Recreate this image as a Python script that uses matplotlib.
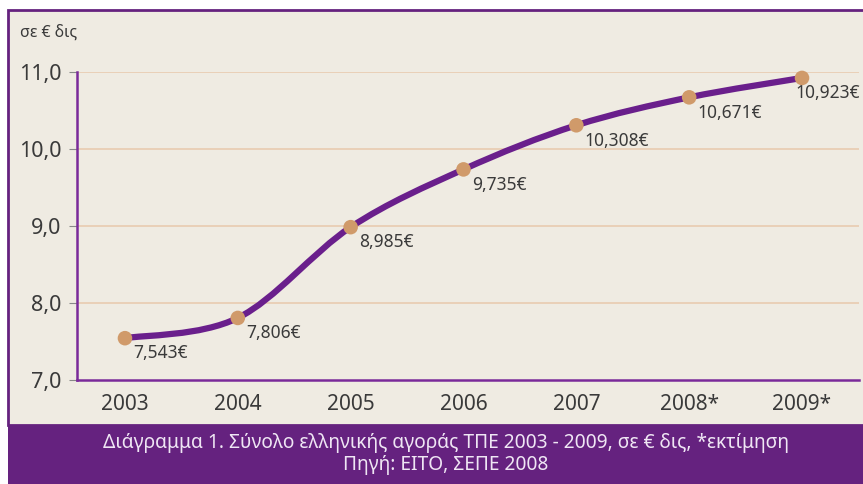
import matplotlib.pyplot as plt
import numpy as np
from matplotlib.path import Path
from matplotlib.patches import PathPatch, Rectangle

plt.rcParams['font.family'] = ['Noto Sans', 'DejaVu Sans']

years = ['2003', '2004', '2005', '2006', '2007', '2008*', '2009*']
values = [7.543, 7.806, 8.985, 9.735, 10.308, 10.671, 10.923]
point_labels = ['7,543€', '7,806€', '8,985€', '9,735€', '10,308€', '10,671€', '10,923€']
y_ticks = [7.0, 8.0, 9.0, 10.0, 11.0]
y_tick_labels = ['7,0', '8,0', '9,0', '10,0', '11,0']

PURPLE = '#65227f'
LINE = '#6a1f8c'
MARKER = '#d09a6a'
BG = '#efebe2'
GRID = '#e9ceb4'
TEXT = '#3a3a3a'

W, H = 863, 484
fig = plt.figure(figsize=(W / 100, H / 100), dpi=100)
fig.patch.set_facecolor('white')

# panel background, border and caption band (behind the axes)
fig.add_artist(Rectangle((8 / W, 1 - 425 / H), 1, 415 / H, transform=fig.transFigure,
                         facecolor=BG, edgecolor=PURPLE, linewidth=2, zorder=-2))
fig.add_artist(Rectangle((8 / W, 0), 1, 59 / H, transform=fig.transFigure,
                         facecolor=PURPLE, edgecolor='none', zorder=-1))

ax = fig.add_axes([77 / W, 1 - 380 / H, (859 - 77) / W, (380 - 72) / H])
ax.set_facecolor('none')

x = np.arange(len(values))
y = np.array(values)

# smooth curve through the points (cardinal spline as cubic bezier segments)
verts = [(x[0], y[0])]
codes = [Path.MOVETO]
t = 0.5
for i in range(len(x) - 1):
    p0 = np.array([x[max(i - 1, 0)], y[max(i - 1, 0)]])
    p1 = np.array([x[i], y[i]])
    p2 = np.array([x[i + 1], y[i + 1]])
    p3 = np.array([x[min(i + 2, len(x) - 1)], y[min(i + 2, len(x) - 1)]])
    c1 = p1 + (p2 - p0) * t / 3
    c2 = p2 - (p3 - p1) * t / 3
    verts += [tuple(c1), tuple(c2), tuple(p2)]
    codes += [Path.CURVE4] * 3
ax.add_patch(PathPatch(Path(verts, codes), facecolor='none', edgecolor=LINE,
                       linewidth=4.5, capstyle='round', zorder=3))
ax.scatter(x, y, s=110, color=MARKER, zorder=4, edgecolors='none', clip_on=False)

for i, (xi, yi, lab) in enumerate(zip(x, y, point_labels)):
    # last label is pulled left so it fits inside the panel
    dx = -5 if i == len(x) - 1 else 6
    ax.annotate(lab, (xi, yi), xytext=(dx, -11), textcoords='offset points',
                ha='left', va='center', fontsize=12.5, color=TEXT, annotation_clip=False)

ax.set_xlim(-0.425, 6.505)
ax.set_ylim(7.0, 11.0)
ax.set_xticks(x)
ax.set_xticklabels(years, fontsize=15, color=TEXT)
ax.set_yticks(y_ticks)
ax.set_yticklabels(y_tick_labels, fontsize=15.5, color=TEXT)
ax.tick_params(axis='x', length=0, pad=10)
ax.tick_params(axis='y', length=6, color='#888888', pad=5)

for v in y_ticks[1:]:
    ax.axhline(v, color=GRID, linewidth=1.3, zorder=1)

for side in ['top', 'right']:
    ax.spines[side].set_visible(False)
for side in ['left', 'bottom']:
    ax.spines[side].set_color('#7a2a9a')
    ax.spines[side].set_linewidth(1.8)

fig.text(20 / W, 1 - 33 / H, 'σε € δις', fontsize=11.5, color=TEXT, va='center', ha='left')
fig.text(446 / W, 1 - 443 / H, 'Διάγραμμα 1. Σύνολο ελληνικής αγοράς ΤΠΕ 2003 - 2009, σε € δις, *εκτίμηση',
         fontsize=13.8, color='#efe6f4', ha='center', va='center')
fig.text(446 / W, 1 - 465 / H, 'Πηγή: ΕΙΤΟ, ΣΕΠΕ 2008',
         fontsize=13.8, color='#efe6f4', ha='center', va='center')

fig.savefig('out.png', dpi=100, facecolor=fig.get_facecolor())
